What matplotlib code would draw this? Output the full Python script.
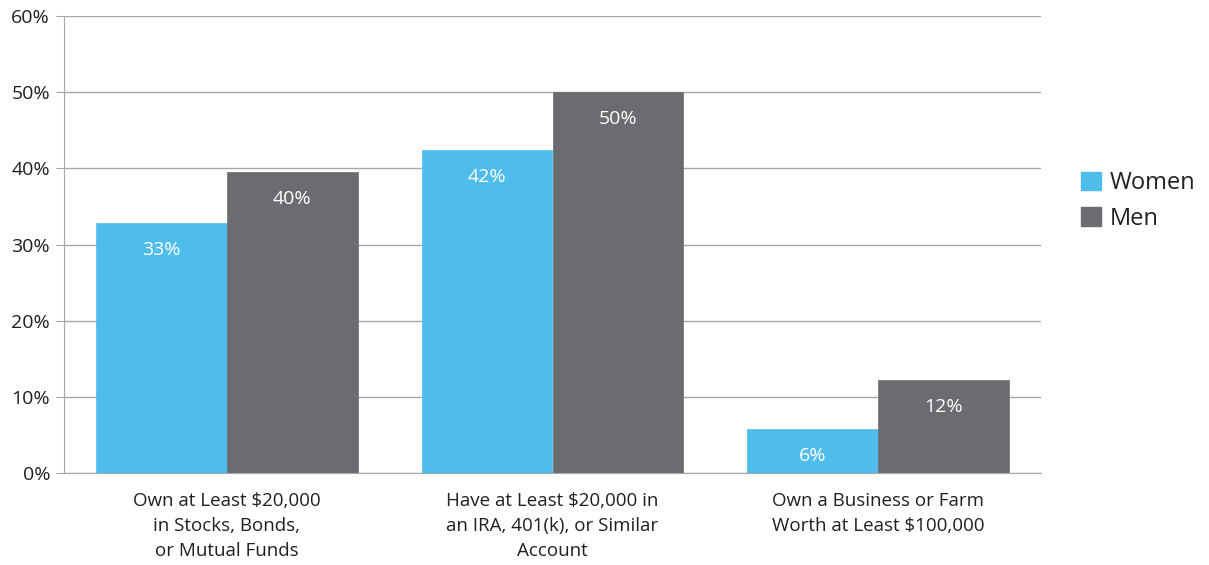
import matplotlib.pyplot as plt
import matplotlib.patches as mpatches
import numpy as np

# ─── Data ────────────────────────────────────────────────────────────────────

categories = [
    "Own at Least $20,000\nin Stocks, Bonds,\nor Mutual Funds",
    "Have at Least $20,000 in\nan IRA, 401(k), or Similar\nAccount",
    "Own a Business or Farm\nWorth at Least $100,000",
]
women = [32.8, 42.4, 5.8]
men = [39.5, 50.0, 12.2]
yticks = [0, 10, 20, 30, 40, 50, 60]

# ─── Style ───────────────────────────────────────────────────────────────────

COLORS = {
    "women": "#4FBDEB",
    "men":   "#6B6C70",
    "grid":  "#A7A7A7",
    "text":  "#231F20",
}

plt.rcParams.update({
    "font.family": ["Open Sans", "DejaVu Sans"],
})

fig = plt.figure(figsize=(12.09, 5.65), dpi=100)
ax = fig.add_axes([64 / 1209, 1 - 473 / 565, 977 / 1209, 457 / 565])

x = np.arange(len(categories))
w = 0.402

bars_w = ax.bar(x - w / 2, women, width=w, color=COLORS["women"],
                edgecolor=COLORS["women"], linewidth=0.5, zorder=2)
bars_m = ax.bar(x + w / 2, men, width=w, color=COLORS["men"],
                edgecolor=COLORS["men"], linewidth=0.5, zorder=2)

for bars, vals in [(bars_w, women), (bars_m, men)]:
    for bar, val in zip(bars, vals):
        ax.annotate(f"{val:.0f}%",
                    xy=(bar.get_x() + bar.get_width() / 2, bar.get_height()),
                    xytext=(0, -19.5), textcoords="offset points",
                    ha="center", va="center", fontsize=14, color="white", zorder=3)

ax.set_xlim(-0.5, 2.5)
ax.set_ylim(0, 60)
ax.set_yticks(yticks)
ax.set_yticklabels([f"{t}%" for t in yticks], fontsize=14, color=COLORS["text"])
ax.yaxis.grid(True, color=COLORS["grid"], linewidth=1.0, zorder=0)
ax.set_axisbelow(True)

ax.set_xticks(x)
ax.set_xticklabels(categories, fontsize=13.5, color=COLORS["text"], linespacing=1.5)
ax.tick_params(axis="x", length=0, pad=14)
ax.tick_params(axis="y", length=6, color=COLORS["grid"], pad=4)

for side in ["top", "right"]:
    ax.spines[side].set_visible(False)
ax.spines["left"].set_color(COLORS["grid"])
ax.spines["bottom"].set_color(COLORS["grid"])

patches = [
    mpatches.Patch(color=COLORS["women"], label="Women"),
    mpatches.Patch(color=COLORS["men"], label="Men"),
]
fig.legend(handles=patches, loc="center left", bbox_to_anchor=(1060 / 1209, 1 - 201 / 565),
           frameon=False, fontsize=17, handlelength=0.85, handleheight=0.85,
           handletextpad=0.35, labelspacing=0.5, labelcolor=COLORS["text"])

fig.savefig("out.png", dpi=100)
